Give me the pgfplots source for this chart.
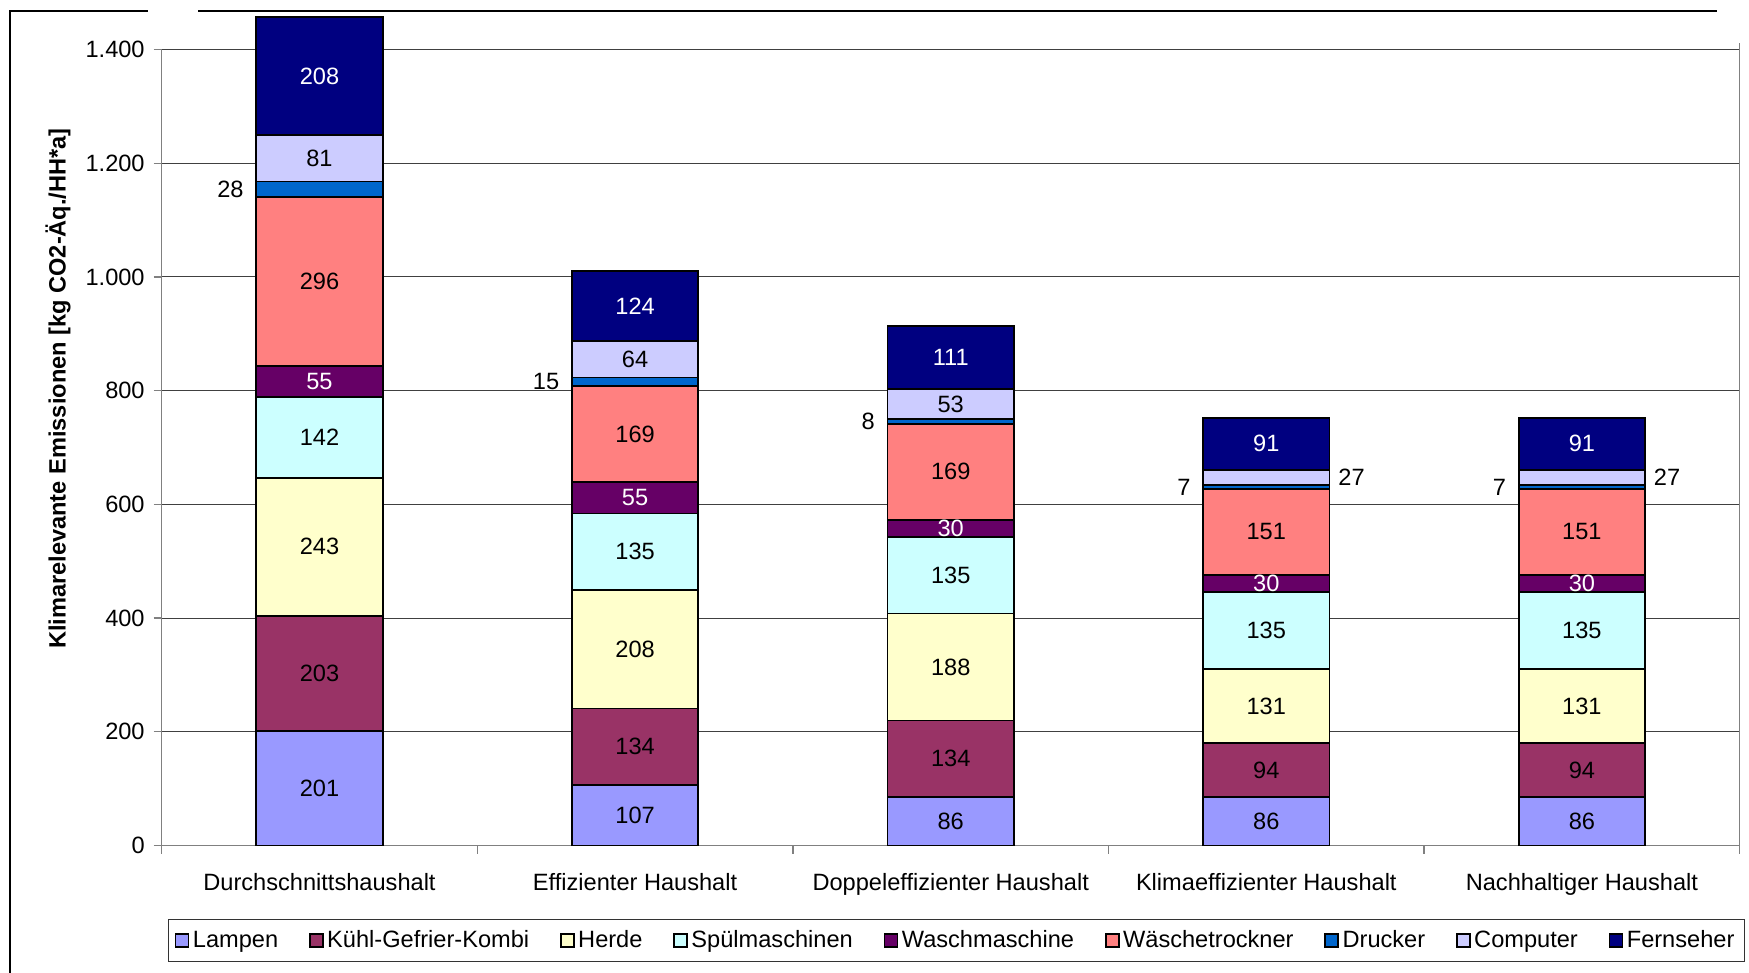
\documentclass[border=0pt]{standalone}
\usepackage{pgfplots}
\pgfplotsset{compat=1.18}
\usepackage{pgfplotstable}
\usepackage{fontspec}
\setmainfont{Liberation Sans}
\definecolor{cL}{HTML}{9999FF}
\definecolor{cK}{HTML}{993366}
\definecolor{cH}{HTML}{FFFFCC}
\definecolor{cS}{HTML}{CCFFFF}
\definecolor{cW}{HTML}{660066}
\definecolor{cT}{HTML}{FF8080}
\definecolor{cD}{HTML}{0066CC}
\definecolor{cC}{HTML}{CCCCFF}
\definecolor{cF}{HTML}{000080}

\pgfplotstableread{
x L K H S W T D C F
0 201 203 243 142 55 296 28 81 208
1 107 134 208 135 55 169 15 64 124
2 86 134 188 135 30 169 8 53 111
3 86 94 131 135 30 151 7 27 91
4 86 94 131 135 30 151 7 27 91
}\data

\newcommand\fs{\fontsize{11.8}{14}\selectfont}
\begin{document}
\begin{tikzpicture}
\begin{axis}[
  name=ax,
  scale only axis, width=789pt, height=398pt,
  xmin=-0.5, xmax=4.5, ymin=0, ymax=1400,
  ybar stacked, bar width=0.4,
  every axis plot/.append style={draw=black, line width=0.9pt,
    legend image code/.code={\draw[##1, draw=black, line width=0.8pt] (0pt,-3.25pt) rectangle (6.5pt,3.25pt);}},
  nodes near coords,
  visualization depends on=x \as \rawx,
  every node near coord/.append style={anchor=center, font=\fs, inner sep=0pt},
  clip=false,
  axis x line*=bottom, axis y line*=left,
  axis line style={gray, line width=0.7pt, -},
  xtick={-0.5,0.5,...,4.5},
  x tick label as interval,
  xticklabels={Durchschnittshaushalt, Effizienter Haushalt, Doppeleffizienter Haushalt, Klimaeffizienter Haushalt, Nachhaltiger Haushalt},
  ytick={0,200,...,1400},
  tick align=outside, major tick length=4pt,
  tick style={gray, line width=0.7pt},
  ymajorgrids, grid style={black!75, line width=0.5pt},
  xticklabel style={font=\fs, yshift=-6.2pt},
  yticklabel style={font=\fs, xshift=-1pt},
  ylabel={Klimarelevante Emissionen [kg CO2-Äq./HH*a]},
  every axis y label/.style={at={(axis description cs:-0.0657,0.574)}, rotate=90, anchor=center, font=\fs\bfseries},
  legend columns=9,
  legend style={at={(axis description cs:0.5036,-0.1193)}, anchor=center, draw=black!80, line width=0.5pt, font=\fs,
    nodes={inner xsep=1.8pt, inner ysep=3.5pt},
    /tikz/every even column/.append style={column sep=13.6pt}},
  legend cell align=left,
  /pgf/number format/1000 sep={.},
  /pgf/number format/assume math mode=true,
]
\addplot[fill=cL] table[x=x,y=L]{\data};
\addplot[fill=cK] table[x=x,y=K]{\data};
\addplot[fill=cH] table[x=x,y=H]{\data};
\addplot[fill=cS] table[x=x,y=S]{\data};
\addplot[fill=cW, every node near coord/.append style={text=white}] table[x=x,y=W]{\data};
\addplot[fill=cT] table[x=x,y=T]{\data};
\addplot[fill=cD, every node near coord/.append style={anchor=east, xshift=-37.5pt}] table[x=x,y=D]{\data};
\addplot[fill=cC, every node near coord/.append style={xshift={ifthenelse(\rawx>2.5,42.6,0)}}] table[x=x,y=C]{\data};
\addplot[fill=cF, every node near coord/.append style={text=white}] table[x=x,y=F]{\data};
\legend{Lampen, Kühl-Gefrier-Kombi, Herde, Spülmaschinen, Waschmaschine, Wäschetrockner, Drucker, Computer, Fernseher}
\draw[gray, line width=0.7pt] (rel axis cs:1,0) -- ([yshift=3pt]rel axis cs:1,1);
\end{axis}
\draw[line width=1pt] (ax.south west) ++(-75.85pt,-64pt) -- ++(0,481.4pt) -- ++(69pt,0);
\draw[line width=1pt] (ax.south west) ++(18.15pt,417.4pt) -- ++(759.5pt,0);
\pgfresetboundingbox
\path (ax.south west) ++(-80.85pt,-63.75pt) rectangle ++(874.5pt,486.5pt);
\end{tikzpicture}
\end{document}
